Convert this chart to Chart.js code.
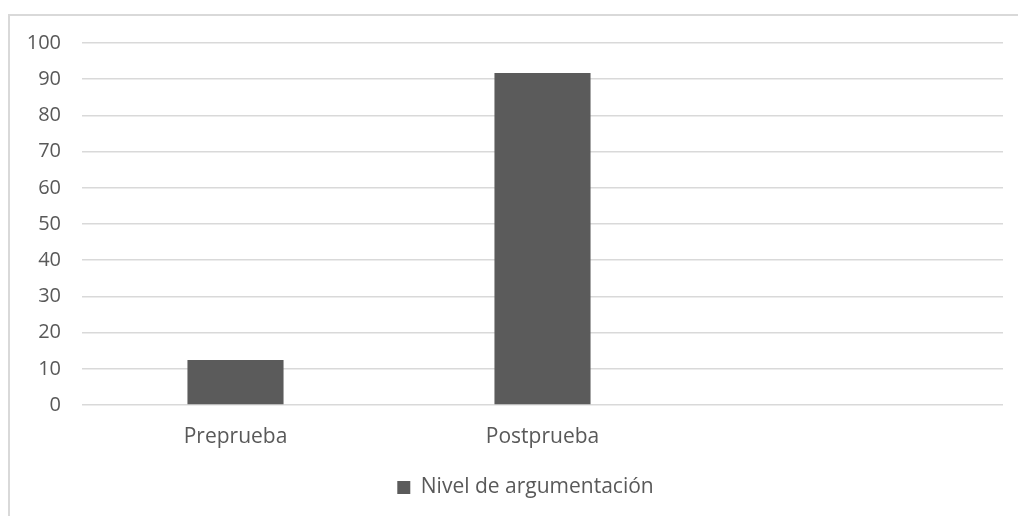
<!DOCTYPE html>
<html>
<head>
<meta charset="utf-8">
<script src="https://cdn.jsdelivr.net/npm/chart.js@4/dist/chart.umd.min.js"></script>
<style>
  html, body { margin: 0; padding: 0; background: #fff; overflow: hidden; }
  #frame {
    position: absolute; left: 8px; top: 14px;
    width: 1040px; height: 540px;
    border: 2px solid #d9d9d9;
  }
  #wrap { position: absolute; left: 0; top: 0; width: 1018px; height: 516px; }
</style>
</head>
<body>
<div id="frame"></div>
<div id="wrap"><canvas id="chart"></canvas></div>
<script>
// categories (the third slot is an empty category, as in the original sheet)
const categories = ['Preprueba', 'Postprueba', ''];
const seriesName = 'Nivel de argumentación';
const seriesValues = [12.4, 91.7, null];
const yTicks = [0, 10, 20, 30, 40, 50, 60, 70, 80, 90, 100];

const textColor = '#595959';
const gridColor = '#d9d9d9';
const barColor = '#5b5b5b';

Chart.defaults.font.family = '"Open Sans", sans-serif';
Chart.defaults.font.size = 21;
Chart.defaults.color = textColor;

// the legend in the original sits a bit right of the canvas centre
const legendShift = {
    id: 'legendShift',
    afterLayout(chart) {
        chart.legend.left += 24;
        chart.legend.right += 24;
    }
};

const ctx = document.getElementById('chart').getContext('2d');
new Chart(ctx, {
    type: 'bar',
    data: {
        labels: categories,
        datasets: [{
            label: seriesName,
            data: seriesValues,
            backgroundColor: barColor,
            borderWidth: 0,
            categoryPercentage: 1,
            barPercentage: 0.313
        }]
    },
    options: {
        responsive: true,
        maintainAspectRatio: false,
        animation: false,
        layout: {
            padding: { top: 43, right: 15, bottom: 8, left: 0 }
        },
        scales: {
            x: {
                grid: { display: false, drawTicks: false },
                border: { display: false },
                ticks: { padding: 19, color: textColor },
                afterFit: (scale) => { scale.height = 62; }
            },
            y: {
                min: yTicks[0],
                max: yTicks[yTicks.length - 1],
                afterBuildTicks: (scale) => {
                    scale.ticks = yTicks.map(v => ({ value: v }));
                },
                grid: { color: gridColor, lineWidth: 1.5, drawTicks: false },
                border: { display: false },
                ticks: { padding: 21, color: textColor, font: { size: 20 } },
                afterFit: (scale) => { scale.width = 82; }
            }
        },
        plugins: {
            legend: {
                position: 'bottom',
                labels: {
                    boxWidth: 13,
                    boxHeight: 13,
                    padding: 10,
                    color: textColor
                }
            },
            tooltip: { enabled: false }
        }
    },
    plugins: [legendShift]
});
</script>
</body>
</html>
